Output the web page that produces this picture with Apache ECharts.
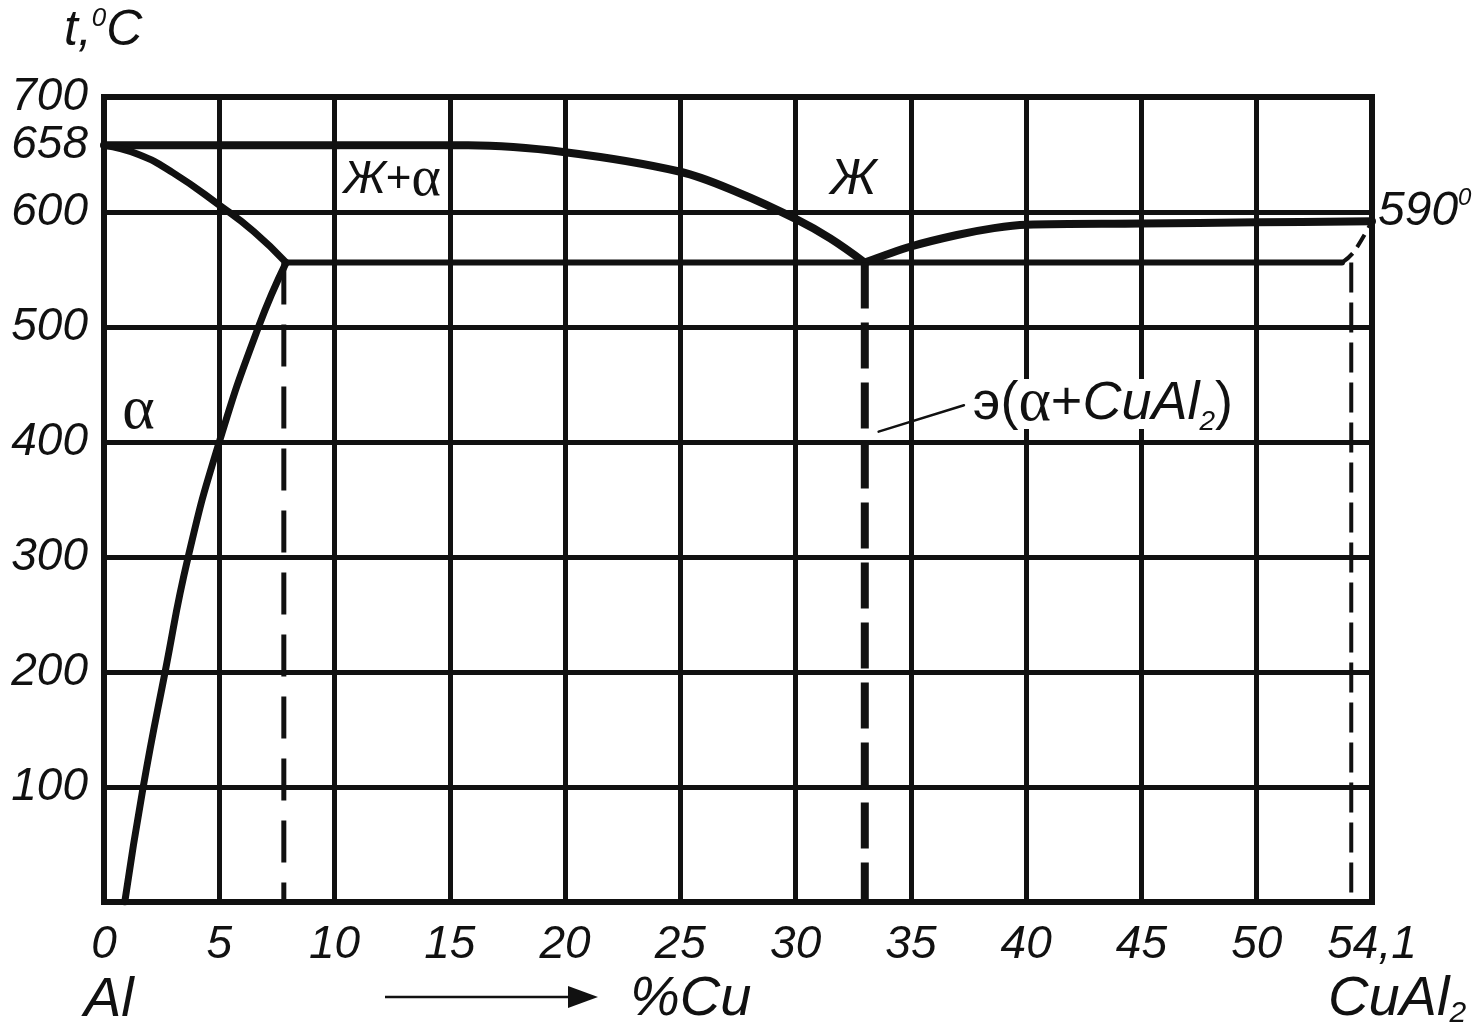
<!DOCTYPE html>
<html><head><meta charset="utf-8">
<script src="https://cdn.jsdelivr.net/npm/echarts@6/dist/echarts.min.js"></script>
<style>html,body{margin:0;padding:0;background:#fff}#c{width:1482px;height:1033px}</style>
</head><body><div id="c"></div>
<script>
// ---- data ----
const xTickValues = [0, 5, 10, 15, 20, 25, 30, 35, 40, 45, 50, 55];
const xTickLabels = ['0', '5', '10', '15', '20', '25', '30', '35', '40', '45', '50', '54,1'];
const yTickValues = [100, 200, 300, 400, 500, 600, 658, 700];
const liquidusAl = [[0, 658], [15.8, 658], [20, 652], [25, 635], [27.5, 617], [30, 594], [31.5, 577], [33, 556]];
const liquidusCu = [[33, 556], [35, 570], [37, 580], [38.6, 586], [40, 589], [45, 590], [50, 591], [55, 592]];
const solidus = [[0, 658], [1.5, 650], [3.0, 634], [5, 606], [6.5, 583], [7.9, 556]];
const solvus = [[0.9, 0], [1.7, 100], [2.65, 200], [3.65, 300], [5.0, 400], [6.7, 500], [7.9, 556]];
const eutectic = [[7.9, 556], [53.7, 556]];
const cuAl2Corner = [[53.7, 556], [54.2, 565], [55, 592]];
const dashAlpha = [[7.8, 556], [7.8, 0]];
const dashEut = [[33, 556], [33, 0]];
const dashCuAl2 = [[54.1, 556], [54.1, 0]];
const leader = [[33.6, 409], [37.3, 432]];
const labelAlpha = [1.5, 426];
const labelLiqAlpha = [12.5, 628];
const labelLiq = [32.5, 628];
const labelEut = [37.6, 433];

const ink = '#111';
const F = '"Liberation Sans", Arial, sans-serif';
const S = '"Liberation Serif", "Times New Roman", serif';

const chart = echarts.init(document.getElementById('c'), null, {renderer: 'canvas'});

function lineSeries(data, w, opts) {
  return Object.assign({
    type: 'line', data: data, symbol: 'none', silent: true, animation: false,
    lineStyle: {color: ink, width: w, cap: 'round', join: 'round'}
  }, opts || {});
}

chart.setOption({
  animation: false,
  grid: {left: 104, right: 110, top: 97, bottom: 131, show: true, borderColor: ink, borderWidth: 6, backgroundColor: 'transparent'},
  xAxis: {
    type: 'value', min: 0, max: 55, interval: 5,
    axisLine: {show: false}, axisTick: {show: false},
    splitLine: {show: true, lineStyle: {color: ink, width: 5}},
    axisLabel: {
      customValues: xTickValues, margin: 20,
      fontFamily: F, fontStyle: 'italic', fontSize: 46, color: ink,
      formatter: function (v) { const i = xTickValues.indexOf(v); return i >= 0 ? xTickLabels[i] : ''; }
    }
  },
  yAxis: {
    type: 'value', min: 0, max: 700, interval: 100,
    axisLine: {show: false}, axisTick: {show: false},
    splitLine: {show: true, lineStyle: {color: ink, width: 5}},
    axisLabel: {
      customValues: yTickValues, margin: 16,
      fontFamily: F, fontStyle: 'italic', fontSize: 46, color: ink
    }
  },
  series: [
    lineSeries(liquidusAl, 8, {smooth: 0.35}),
    lineSeries(liquidusCu, 8, {smooth: 0.35}),
    lineSeries(solidus, 7, {smooth: 0.5}),
    lineSeries(solvus, 7, {smooth: 0.5}),
    lineSeries(eutectic, 6),
    lineSeries(cuAl2Corner, 4, {smooth: 0.4, lineStyle: {color: ink, width: 4, type: [14, 8]}}),
    lineSeries(dashAlpha, 5, {lineStyle: {color: ink, width: 5, type: [42, 20]}}),
    lineSeries(dashEut, 8, {lineStyle: {color: ink, width: 8, type: [46, 14]}}),
    lineSeries(dashCuAl2, 4, {lineStyle: {color: ink, width: 4, type: [30, 10]}}),
    lineSeries(leader, 2.5)
  ]
});

function px(p) { return chart.convertToPixel({gridIndex: 0}, p); }
const pA = px(labelAlpha), pLA = px(labelLiqAlpha), pL = px(labelLiq), pE = px(labelEut);

chart.setOption({
  graphic: [
    {type: 'text', left: 64, top: 6, style: {
      text: '{i|t,}{s|0}{i|C}', rich: {
        i: {fontFamily: F, fontStyle: 'italic', fontSize: 50, fill: ink},
        s: {fontFamily: F, fontStyle: 'italic', fontSize: 26, fill: ink, padding: [0, 0, 24, 0]}
      }}},
    {type: 'text', x: 1378, y: 212, style: {
      text: '{i|590}{s|0}', verticalAlign: 'middle', rich: {
        i: {fontFamily: F, fontStyle: 'italic', fontSize: 48, fill: ink},
        s: {fontFamily: F, fontStyle: 'italic', fontSize: 24, fill: ink, padding: [0, 0, 28, 0]}
      }}},
    {type: 'text', x: 84, y: 1000, style: {text: 'Al', fontFamily: F, fontStyle: 'italic', fontSize: 56, fill: ink, verticalAlign: 'middle'}},
    {type: 'text', x: 630, y: 999, style: {text: '%Cu', fontFamily: F, fontStyle: 'italic', fontSize: 56, fill: ink, verticalAlign: 'middle'}},
    {type: 'text', x: 1328, y: 999, style: {
      text: '{i|CuAl}{s|2}', verticalAlign: 'middle', rich: {
        i: {fontFamily: F, fontStyle: 'italic', fontSize: 56, fill: ink},
        s: {fontFamily: F, fontStyle: 'italic', fontSize: 30, fill: ink, padding: [30, 0, 0, 0]}
      }}},
    {type: 'line', shape: {x1: 385, y1: 997, x2: 580, y2: 997}, style: {stroke: ink, lineWidth: 2.5}},
    {type: 'polygon', shape: {points: [[568, 986], [598, 997], [568, 1008]]}, style: {fill: ink}},
    {type: 'text', x: pA[0], y: pA[1], style: {text: 'α', fontFamily: S, fontSize: 62, fill: ink, align: 'center', verticalAlign: 'middle'}},
    {type: 'text', x: pLA[0], y: pLA[1], z: 10, style: {
      text: '{i|Ж}{n|+}{g|α}', align: 'center', verticalAlign: 'middle', backgroundColor: '#fff', padding: [2, 4, 2, 4],
      rich: {
        i: {fontFamily: F, fontStyle: 'italic', fontSize: 46, fill: ink},
        n: {fontFamily: F, fontSize: 44, fill: ink},
        g: {fontFamily: S, fontSize: 56, fill: ink}
      }}},
    {type: 'text', x: pL[0], y: pL[1], z: 10, style: {text: 'Ж', fontFamily: F, fontStyle: 'italic', fontSize: 50, fill: ink, align: 'center', verticalAlign: 'middle', backgroundColor: '#fff', padding: [2, 8, 2, 8]}},
    {type: 'text', x: pE[0], y: pE[1], z: 10, style: {
      text: '{n|э(}{g|α}{n|+}{i|CuAl}{s|2}{n|)}', verticalAlign: 'middle', backgroundColor: '#fff', padding: [0, 2, 0, 2],
      rich: {
        n: {fontFamily: F, fontSize: 54, lineHeight: 50, fill: ink},
        g: {fontFamily: S, fontSize: 62, lineHeight: 50, fill: ink},
        i: {fontFamily: F, fontStyle: 'italic', fontSize: 54, lineHeight: 50, fill: ink},
        s: {fontFamily: F, fontStyle: 'italic', fontSize: 28, lineHeight: 26, fill: ink, padding: [36, 0, 0, 0]}
      }}}
  ]
});
</script></body></html>
